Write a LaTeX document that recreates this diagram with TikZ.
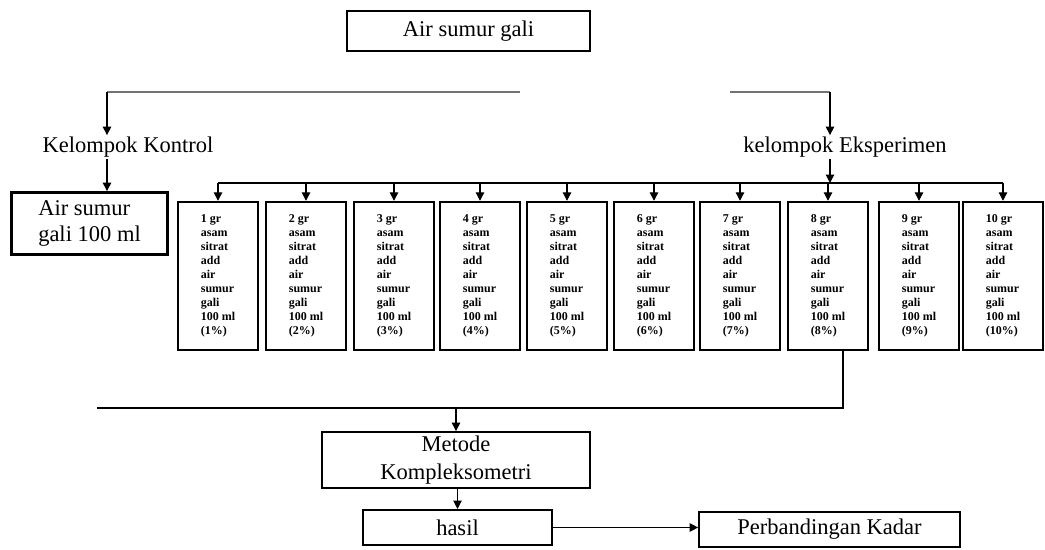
\documentclass[tikz,border=0pt]{standalone}
\usepackage{fontspec}
\setmainfont{Liberation Serif}
\usetikzlibrary{arrows.meta, positioning}

\begin{document}
\begin{tikzpicture}[
            x=0.025cm, y=-0.025cm,
            box/.style = {rectangle, draw, line width=1.3pt, font=\fontsize{16}{19}\selectfont, inner sep=2pt},
            dosis/.style = {rectangle, draw, line width=1.7pt, minimum width=2.0cm, minimum height=3.7cm,
                            align=left, font=\fontsize{8.5}{10}\selectfont\bfseries, inner sep=2pt},
            label/.style = {font=\fontsize{16}{19}\selectfont, inner sep=1pt},
            arr/.style = {-{Triangle[width=6pt,length=6pt]}, thick},
        ]
            \useasboundingbox (0,0) rectangle (1045,550);

            % Top
            \node[box, minimum width=6.08cm, minimum height=1.02cm] (sumur) at (468.5,31) {Air sumur gali};

            % Split into two groups
            \coordinate (lt) at (107,92);
            \coordinate (lm) at (520,92);
            \coordinate (rm) at (730,92);
            \coordinate (rt) at (830,92);
            \node[label] (kontrol) at (128,147) {Kelompok Kontrol};
            \node[label] (eksperimen) at (845,147) {kelompok Eksperimen};
            \draw[black!55, thick] (lt) -- (lm);
            \draw[black!55, thick] (rm) -- (rt);
            \draw[arr] (lt) -- (lt |- kontrol.north);
            \draw[arr] (rt) -- (rt |- eksperimen.north);

            % Control group
            \node[box, line width=2pt, align=left, minimum width=3.88cm, minimum height=1.55cm] (kbox) at (89.5,223.5) {Air sumur\\gali 100 ml};
            \draw[arr] (kontrol.south -| lt) -- (kbox.north -| lt);

            % Experiment groups 1% ... 10%
            \foreach \i/\x in {1/218, 2/306, 3/394, 4/480, 5/567, 6/654, 7/740, 8/828, 9/919, 10/1003}
                \node[dosis] (e\i) at (\x,276) {\i{} gr\\asam\\sitrat\\add\\air\\sumur\\gali\\100 ml\\(\i\%)};

            \coordinate (bus) at (830,183);
            \draw[arr] (eksperimen.south -| bus) -- (bus);
            \draw[thick] (e1.north |- bus) -- (e10.north |- bus);
            \foreach \i in {1,...,10}
                \draw[arr] (e\i.north |- bus) -- (e\i.north);

            % Collect results
            \coordinate (jn) at (843,408);
            \coordinate (jl) at (97,408);
            \draw[thick] (e8.south -| jn) -- (jn) -- (jl);

            \node[box, align=center, minimum width=6.7cm, minimum height=1.4cm] (metode) at (456,460) {Metode\\[1pt]Kompleksometri};
            \node[box, minimum width=4.72cm, minimum height=0.88cm] (hasil) at (457.5,527.5) {hasil};
            \node[box, minimum width=6.52cm, minimum height=0.88cm] (banding) at (829.5,529.5) {Perbandingan Kadar};

            \draw[arr] (metode.north |- jn) -- (metode.north);
            \draw[arr] (metode.south -| hasil.north) -- (hasil.north);
            \draw[arr] (hasil.east) -- (banding.west |- hasil.east);
        \end{tikzpicture}
\end{document}
